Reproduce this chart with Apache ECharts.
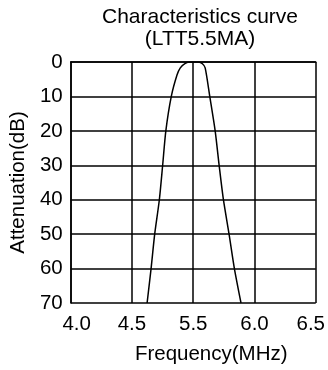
<!DOCTYPE html>
<html lang="en">

<head>
    <meta charset="UTF-8">
    <title>Characteristics curve</title>
    <script src="https://cdn.jsdelivr.net/npm/echarts@6/dist/echarts.min.js"></script>
    <style>
        body {
            margin: 0;
        }

        #root {
            width: 328px;
            height: 370px;
        }
    </style>
</head>

<body>

    <div id="root"></div>
    <script>

        // tick labels as printed on the original (one per vertical grid line)
        var xLabels = ['4.0', '4.5', '5.5', '6.0', '6.5'];
        var yTicks = [0, 10, 20, 30, 40, 50, 60, 70];

        // curve, x in grid-line units (0 = first line, 4 = last), y in dB
        var curveX = [1.247, 1.312, 1.371, 1.447, 1.501, 1.553, 1.642, 1.735, 1.789, 1.87, 1.95, 2.02, 2.087, 2.15, 2.195, 2.27, 2.358, 2.423, 2.493, 2.585, 2.672, 2.780];
        var curveY = [70, 60, 50, 40, 30, 20, 10, 3.8, 1.7, 0.4, 0, 0, 0, 0.5, 1.7, 10, 20, 30, 40, 50, 60, 70];

        var font = 'Liberation Sans, Arial, sans-serif';
        var fs = 20.5;
        var chart = echarts.init(document.getElementById('root'));

        chart.setOption({
            animation: false,
            title: {
                text: 'Characteristics curve\n(LTT5.5MA)',
                left: 195,
                top: 1,
                textAlign: 'center',
                textStyle: {
                    fontFamily: font,
                    fontSize: 21,
                    fontWeight: 'normal',
                    color: '#000',
                    lineHeight: 22
                }
            },
            grid: {
                left: 70,
                right: 12,
                top: 62,
                bottom: 65
            },
            xAxis: {
                type: 'value',
                min: 0,
                max: 4,
                interval: 1,
                name: 'Frequency(MHz)',
                nameLocation: 'middle',
                nameGap: 41,
                nameTextStyle: {
                    fontFamily: font,
                    fontSize: fs,
                    color: '#000',
                    padding: [0, 0, 0, 36]
                },
                axisLine: { show: true, lineStyle: { color: '#000', width: 1.5 } },
                axisTick: { show: false },
                splitLine: { show: true, lineStyle: { color: '#000', width: 1.5 } },
                axisLabel: {
                    margin: 11,
                    fontFamily: font,
                    fontSize: fs,
                    color: '#000',
                    formatter: function (v) {
                        var s = xLabels[Math.round(v)];
                        if (v === 0) return '{l|' + s + '}';
                        if (v === 4) return '{r|' + s + '}';
                        return s;
                    },
                    rich: {
                        l: { fontFamily: font, fontSize: fs, color: '#000', padding: [0, 0, 0, 12] },
                        r: { fontFamily: font, fontSize: fs, color: '#000', padding: [0, 10, 0, 0] }
                    }
                }
            },
            yAxis: {
                type: 'value',
                inverse: true,
                min: yTicks[0],
                max: yTicks[yTicks.length - 1],
                interval: 10,
                name: 'Attenuation(dB)',
                nameLocation: 'middle',
                nameGap: 38,
                nameTextStyle: {
                    fontFamily: font,
                    fontSize: fs,
                    color: '#000'
                },
                axisLine: { show: true, lineStyle: { color: '#000', width: 1.5 } },
                axisTick: { show: false },
                splitLine: { show: true, lineStyle: { color: '#000', width: 1.5 } },
                axisLabel: {
                    margin: 8,
                    fontFamily: font,
                    fontSize: fs,
                    color: '#000'
                }
            },
            series: [{
                type: 'line',
                smooth: 0.25,
                symbol: 'none',
                lineStyle: { color: '#000', width: 1.5 },
                data: curveX.map(function (x, i) { return [x, curveY[i]]; })
            }]
        });

    </script>

</body>

</html>
